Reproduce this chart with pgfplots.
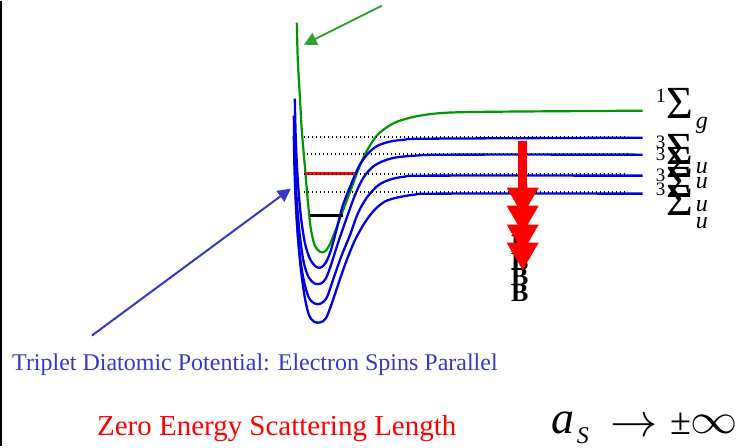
\documentclass[border=0pt]{standalone}
\usepackage{pgfplots}
\pgfplotsset{compat=1.18}
\usepackage{graphicx}
\usetikzlibrary{arrows.meta}
\usepackage{fontspec}
\setmainfont{Liberation Serif}
\definecolor{cgreen}{RGB}{0,150,0}
\definecolor{agreen}{RGB}{50,160,50}
\definecolor{cblue}{RGB}{0,0,230}
\definecolor{tblue}{RGB}{55,55,200}
\newcommand{\fs}[1]{\fontsize{#1}{#1}\selectfont}
\begin{document}
\begin{tikzpicture}
\begin{axis}[scale only axis, width=738pt, height=446pt,
  xmin=0, xmax=738, ymin=0, ymax=446, y dir=reverse,
  hide axis, clip=false]
\addplot[draw=none] coordinates {(0,0) (738,446)};
% left frame line
\addplot[black, line width=1.5pt] coordinates {(0.8,0) (0.8,446)};
% B labels (under arrows)
\node[anchor=base, inner sep=0pt, font=\fs{26}\bfseries] at (axis cs:520,252) {B};
\node[anchor=base, inner sep=0pt, font=\fs{26}\bfseries] at (axis cs:520,270) {B};
\node[anchor=base, inner sep=0pt, font=\fs{26}\bfseries] at (axis cs:520,285) {B};
\node[anchor=base, inner sep=0pt, font=\fs{26}\bfseries] at (axis cs:520,301) {B};
% singlet (green)
\addplot[cgreen, line width=2.2pt, smooth, tension=0.5] coordinates {
(297,22) (298,60) (300,95) (302,130) (305,165) (308,200) (311,228) (315,245) (320,251) (325,251) (330,244) (336,229) (342,213) (350,192) (357,173) (366,152) (377,135) (388,126) (400,120) (420,115) (447,112) (500,111) (643,110)};
% triplets (blue)
\addplot[cblue, line width=2.3pt, smooth, tension=0.5] coordinates {
(295,98) (296,140) (298,180) (301,215) (305,242) (310,258) (316,266) (321,267) (326,262) (331,250) (337,228) (343,205) (352,182) (360,164) (369,152) (378,145) (390,141) (405,139) (430,138) (643,137)};
\addplot[cblue, line width=2.3pt, smooth, tension=0.5] coordinates {
(294,115) (295,160) (297,200) (300,235) (304,262) (309,277) (315,283) (321,283) (326,278) (331,265) (338,243) (347,217) (355,195) (363,178) (372,167) (382,161) (395,157) (415,155) (450,154) (643,154)};
\addplot[cblue, line width=2.3pt, smooth, tension=0.5] coordinates {
(294,135) (295,180) (297,220) (300,255) (304,280) (309,297) (315,303) (321,303) (327,297) (333,280) (341,257) (350,235) (358,213) (367,197) (378,185) (390,179) (405,176) (430,175) (643,175)};
\addplot[cblue, line width=2.3pt, smooth, tension=0.5] coordinates {
(295,153) (296,195) (298,235) (301,268) (305,297) (309,314) (314,321) (320,322) (326,318) (332,303) (338,285) (346,262) (355,240) (365,222) (375,209) (385,201) (397,197) (415,194) (440,193) (643,193)};
% level segments
\addplot[red, line width=2.5pt] coordinates {(305,173) (355,173)};
\addplot[black, line width=2.5pt] coordinates {(310,215) (343,215)};
% dotted thresholds
\addplot[black, line width=1.8pt, dash pattern=on 1.6pt off 2.4pt] coordinates {(304,136) (628,136)};
\addplot[black, line width=1.8pt, dash pattern=on 1.6pt off 2.4pt] coordinates {(307,153) (628,153)};
\addplot[black, line width=1.8pt, dash pattern=on 1.6pt off 2.4pt] coordinates {(304,173) (628,173)};
\addplot[black, line width=1.8pt, dash pattern=on 1.6pt off 2.4pt] coordinates {(304,191) (628,191)};
% red arrows (B field)
\addplot[red, line width=9pt, -{Triangle[length=28pt,width=30pt]}] coordinates {(523,140) (523,215)};
\addplot[red, line width=9pt, -{Triangle[length=28pt,width=30pt]}] coordinates {(523,140) (523,233)};
\addplot[red, line width=9pt, -{Triangle[length=28pt,width=30pt]}] coordinates {(523,140) (523,252)};
\addplot[red, line width=9pt, -{Triangle[length=28pt,width=30pt]}] coordinates {(523,140) (523,270)};
% pointer arrows
\addplot[agreen, line width=2pt, -{Triangle[length=13pt,width=13pt]}] coordinates {(382,5) (304,44)};
\addplot[tblue, line width=2pt, -{Triangle[length=13pt,width=13pt]}] coordinates {(92,335) (291,188)};
% singlet label
\node[anchor=base west, inner sep=0pt, font=\fs{20}] at (axis cs:656,102) {1};
\node[anchor=base west, inner sep=0pt, font=\fs{46}] at (axis cs:667,118) {Σ};
\node[anchor=base west, inner sep=0pt, font=\fs{24}\itshape] at (axis cs:696,128) {g};
% triplet labels
\node[anchor=base west, inner sep=0pt, font=\fs{19}] at (axis cs:656,148) {3};
\node[anchor=base west, inner sep=0pt, font=\fs{19}] at (axis cs:656,160) {3};
\node[anchor=base west, inner sep=0pt, font=\fs{19}] at (axis cs:656,181) {3};
\node[anchor=base west, inner sep=0pt, font=\fs{19}] at (axis cs:656,195) {3};
\node[anchor=base west, inner sep=0pt, font=\fs{46}] at (axis cs:667,164) {Σ};
\node[anchor=base west, inner sep=0pt, font=\fs{46}] at (axis cs:667,177) {Σ};
\node[anchor=base west, inner sep=0pt, font=\fs{46}] at (axis cs:667,197) {Σ};
\node[anchor=base west, inner sep=0pt, font=\fs{46}] at (axis cs:667,215) {Σ};
\node[anchor=base west, inner sep=0pt, font=\fs{24}\itshape] at (axis cs:696,173) {u};
\node[anchor=base west, inner sep=0pt, font=\fs{24}\itshape] at (axis cs:696,188) {u};
\node[anchor=base west, inner sep=0pt, font=\fs{24}\itshape] at (axis cs:696,211) {u};
\node[anchor=base west, inner sep=0pt, font=\fs{24}\itshape] at (axis cs:696,228) {u};
% captions
\node[anchor=base west, inner sep=0pt, text=tblue, font=\fs{24}] at (axis cs:12,370) {Triplet Diatomic Potential: Electron Spins Parallel};
\node[anchor=base west, inner sep=0pt, text=red, font=\fs{29}] at (axis cs:97,435) {Zero Energy Scattering Length};
\node[anchor=base west, inner sep=0pt, font=\fs{46}\itshape] at (axis cs:552,433) {a};
\node[anchor=base west, inner sep=0pt, font=\fs{24}\itshape] at (axis cs:577,443) {S};
\node[anchor=base west, inner sep=0pt, font=\fs{24}] at (axis cs:611,436) {\scalebox{1.9}{$\rightarrow$}};
\node[anchor=base west, inner sep=0pt, font=\fs{38}] at (axis cs:671,434) {±};
\node[anchor=base west, inner sep=0pt, font=\fs{24}] at (axis cs:691,433) {\scalebox{1.9}[1.7]{$\infty$}};
\end{axis}
\end{tikzpicture}
\end{document}
